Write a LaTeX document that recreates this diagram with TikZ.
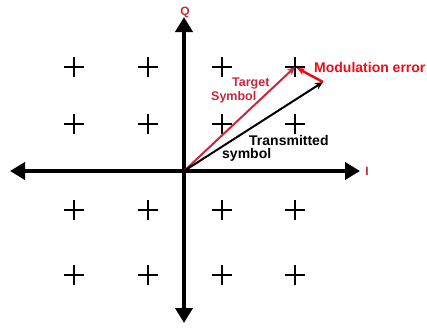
\documentclass[tikz,border=0pt]{standalone}
\usepackage{fontspec}
\setmainfont{Liberation Sans}
\usetikzlibrary{arrows.meta}
\definecolor{tred}{RGB}{200,40,60}
\definecolor{ered}{RGB}{240,10,20}
\tikzset{
  axis/.style={line width=4.5pt,{Triangle[length=15pt,width=17pt]}-{Triangle[length=15pt,width=17pt]}},
  crossline/.style={line width=2.2pt},
  vec/.style={line width=2pt,-{Stealth[length=8pt,width=7pt]}},
  lbl/.style={font=\bfseries\fontsize{14}{16}\selectfont,inner sep=0pt},
  tlbl/.style={font=\bfseries\fontsize{12.5}{14}\selectfont,inner sep=0pt,text=tred},
  axlbl/.style={font=\bfseries\fontsize{12}{14}\selectfont,inner sep=0pt}
}
\begin{document}
\begin{tikzpicture}[x=1pt,y=-1pt]
\useasboundingbox (0,0) rectangle (427,327);
\coordinate (O) at (184,171);
\coordinate (L) at (10,171);
\coordinate (R) at (360,171);
\coordinate (T) at (184,17);
\coordinate (B) at (184,323);
\draw[axis] (L) -- (R);
\draw[axis] (B) -- (T);
% crosses
\foreach \x in {74,148,222,295}{
  \foreach \y in {67,124,210,275}{
    \draw[crossline] (\x-10,\y) -- (\x+10,\y);
    \draw[crossline] (\x,\y-10) -- (\x,\y+10);
  }
}
\coordinate (tgt) at (295,67);
\coordinate (tx) at (323,82);
\draw[vec,tred] (O) -- (tgt);
\draw[vec,black] (O) -- (tx);
\draw[vec,ered,line width=2.5pt] (tx) -- (297,68);
\node[axlbl,text=tred] (q) at (185,12) {Q};
\node[axlbl,text=tred] (i) at (367,171) {I};
\node[lbl,text=ered,anchor=base west] (me) at (314,72) {Modulation error};
\node[tlbl,anchor=base west] (t1) at (232,86) {Target};
\node[tlbl,anchor=base west] (t2) at (211,100) {Symbol};
\node[lbl,anchor=base west] (s1) at (249,145) {Transmitted};
\node[lbl,anchor=base west] (s2) at (222,158) {symbol};
\end{tikzpicture}
\end{document}
